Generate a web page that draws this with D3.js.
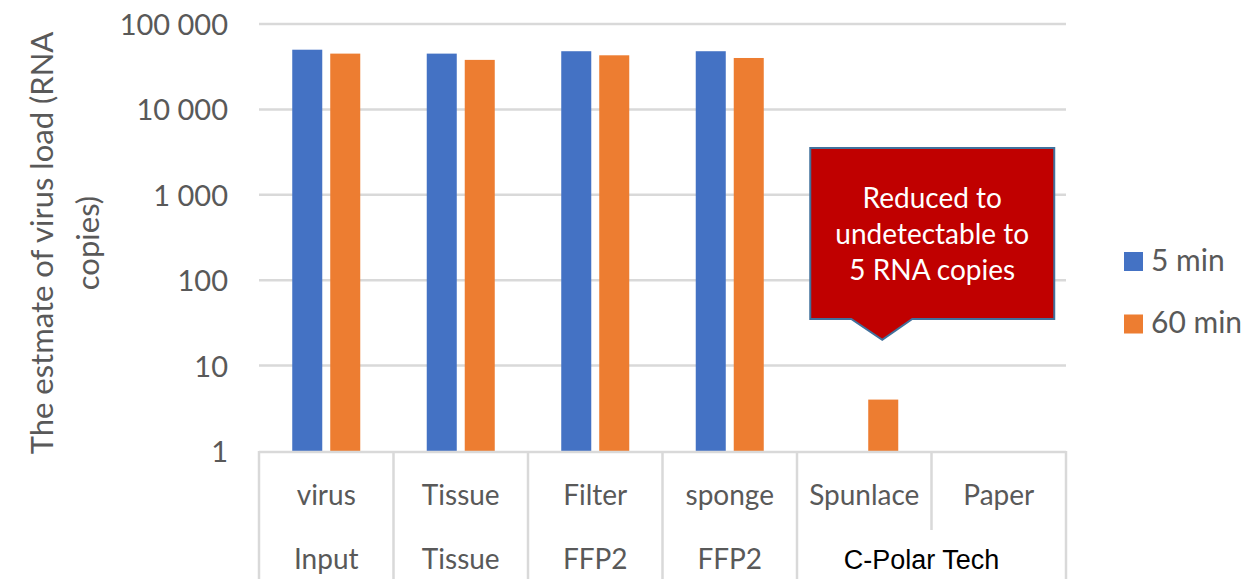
<!DOCTYPE html>
<html>
<head>
<meta charset="utf-8">
<script src="https://cdn.jsdelivr.net/npm/d3@7"></script>
<style>
  html, body { margin: 0; padding: 0; background: #ffffff; }
  svg { display: block; }
</style>
</head>
<body>
<svg id="chart" width="1260" height="579"></svg>
<script>
// ---- data ----
const categories = ["virus", "Tissue", "Filter", "sponge", "Spunlace", "Paper"];
const groupLabels = ["Input", "Tissue", "FFP2", "FFP2", "C-Polar Tech"];
const groupSizes = [1, 1, 1, 1, 2];
const seriesNames = ["5 min", "60 min"];
const values5min = [50000, 45000, 48000, 48000, null, null];
const values60min = [45000, 38000, 43000, 40000, 4, null];
const yTicks = [1, 10, 100, 1000, 10000, 100000];
const calloutLines = ["Reduced to", "undetectable to", "5 RNA copies"];
const yTitleLines = ["The estmate of virus load (RNA", "copies)"];

const colors = {"5 min": "#4472C4", "60 min": "#ED7D31"};
const gridColor = "#D9D9D9";
const textColor = "#595959";
const font = "Lato, 'Open Sans', sans-serif";

const svg = d3.select("#chart");
const plot = {left: 259, right: 1066, top: 24, bottom: 451};

const x0 = d3.scaleBand().domain(d3.range(categories.length)).range([plot.left, plot.right]).padding(0);
const x1 = d3.scaleBand().domain(seriesNames).range([0, x0.bandwidth()]).paddingInner(0.21).paddingOuter(0.875);
const y = d3.scaleLog().domain([1, 100000]).range([plot.bottom, plot.top]);

const locale = d3.formatLocale({decimal: ".", thousands: "\u00a0", grouping: [3], currency: ["", ""]});
const fmt = locale.format(",");

// gridlines
svg.append("g").selectAll("line").data(yTicks.slice(1)).join("line")
  .attr("x1", plot.left).attr("x2", plot.right)
  .attr("y1", d => y(d)).attr("y2", d => y(d))
  .attr("stroke", gridColor).attr("stroke-width", 2.5);

// y axis labels
const yAxis = d3.axisLeft(y).tickValues(yTicks).tickFormat(fmt).tickSize(0).tickPadding(0);
const yg = svg.append("g").attr("transform", `translate(${228},0)`).call(yAxis);
yg.select(".domain").remove();
yg.selectAll("text").attr("font-family", font).attr("font-size", 29).attr("fill", textColor)
  .attr("dy", "0.36em");

// y title
const yt = svg.append("text")
  .attr("transform", `translate(53,${243}) rotate(-90)`)
  .attr("text-anchor", "middle")
  .attr("font-family", font).attr("font-size", 31).attr("fill", textColor);
yTitleLines.forEach((t, i) => {
  yt.append("tspan").attr("x", 0).attr("y", i * 46).text(t);
});

// bars
const rows = categories.map((c, i) => ({i, vals: [values5min[i], values60min[i]]}));
const bg = svg.append("g").selectAll("g").data(rows).join("g")
  .attr("transform", d => `translate(${x0(d.i)},0)`);
bg.selectAll("rect").data(d => seriesNames.map((s, k) => ({s, v: d.vals[k]})).filter(e => e.v != null))
  .join("rect")
  .attr("x", d => x1(d.s)).attr("width", x1.bandwidth())
  .attr("y", d => y(d.v)).attr("height", d => y(1) - y(d.v))
  .attr("fill", d => colors[d.s]);

// category axis (multi-level)
const axisBottom = 579;
const ax = svg.append("g");
ax.append("line").attr("x1", plot.left).attr("x2", plot.right)
  .attr("y1", plot.bottom + 1).attr("y2", plot.bottom + 1)
  .attr("stroke", gridColor).attr("stroke-width", 2.5);
// group spans
const groupSpans = [];
let idx = 0;
groupLabels.forEach((g, k) => {
  groupSpans.push({name: g, start: idx, end: idx + groupSizes[k] - 1});
  idx += groupSizes[k];
});
const groupStarts = new Set(groupSpans.map(g => g.start));
// separators
const bounds = d3.range(categories.length + 1).map(i => i < categories.length ? x0(i) : plot.right);
bounds.forEach((bx, i) => {
  const full = i === 0 || i === categories.length || groupStarts.has(i);
  ax.append("line").attr("x1", bx).attr("x2", bx)
    .attr("y1", plot.bottom).attr("y2", full ? axisBottom : 530)
    .attr("stroke", gridColor).attr("stroke-width", 2.5);
});
// row 1 labels
ax.selectAll("text.cat").data(categories).join("text").attr("class", "cat")
  .attr("x", (d, i) => x0(i) + x0.bandwidth() / 2).attr("y", 505)
  .attr("text-anchor", "middle").attr("font-family", font).attr("font-size", 28)
  .attr("fill", textColor).text(d => d);
// row 2 labels
ax.selectAll("text.grp").data(groupSpans).join("text").attr("class", "grp")
  .attr("x", d => (x0(d.start) + x0(d.end) + x0.bandwidth()) / 2 + (d.end > d.start ? -10 : 0))
  .attr("y", 569)
  .attr("text-anchor", "middle")
  .attr("font-family", d => d.end > d.start ? "'Liberation Sans', Arial, sans-serif" : font)
  .attr("font-size", d => d.end > d.start ? 27 : 28)
  .attr("fill", d => d.end > d.start ? "#000000" : textColor)
  .text(d => d.name);

// legend
const lg = svg.append("g").selectAll("g").data(seriesNames).join("g")
  .attr("transform", (d, i) => `translate(1124,${252 + i * 62.5})`);
lg.append("rect").attr("width", 19).attr("height", 19).attr("fill", d => colors[d]);
lg.append("text").attr("x", 27).attr("y", 18.5).attr("font-family", font).attr("font-size", 30)
  .attr("fill", textColor).text(d => d);

// callout anchored to Spunlace 60 min bar
const tipX = x0(4) + x1("60 min") + x1.bandwidth() / 2 - 1;
const tipY = y(20);
const bx0 = tipX - 72, bx1 = tipX + 172, by0 = tipY - 192, by1 = tipY - 21;
const px0 = tipX - 31, px1 = tipX + 30;
const path = `M${bx0},${by0} L${bx1},${by0} L${bx1},${by1} L${px1},${by1} L${tipX},${tipY} L${px0},${by1} L${bx0},${by1} Z`;
svg.append("path").attr("d", path).attr("fill", "#C00000").attr("stroke", "#41719C").attr("stroke-width", 2);
const cx = (bx0 + bx1) / 2;
svg.append("g").selectAll("text").data(calloutLines).join("text")
  .attr("x", cx).attr("y", (d, i) => by0 + 60 + i * 36)
  .attr("text-anchor", "middle").attr("font-family", font).attr("font-size", 28)
  .attr("fill", "#ffffff").text(d => d);
</script>
</body>
</html>
